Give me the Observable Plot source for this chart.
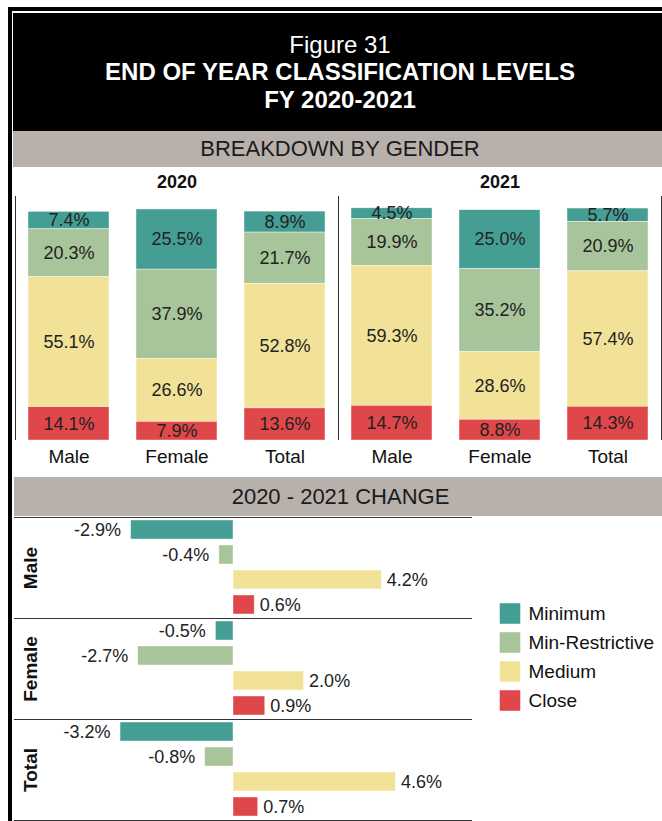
<!DOCTYPE html>
<html>
<head>
<meta charset="utf-8">
<script src="https://cdn.jsdelivr.net/npm/d3@7"></script>
<script src="https://cdn.jsdelivr.net/npm/@observablehq/plot@0.6"></script>
<style>
html, body { margin: 0; padding: 0; width: 662px; height: 821px; overflow: hidden; background: #fff;
  font-family: "Liberation Sans", Arial, sans-serif; }
.abs { position: absolute; }
#frameL { left: 8px; top: 7px; width: 4px; height: 814px; background: #000; }
#frameT { left: 8px; top: 7px; width: 660px; height: 4px; background: #000; }
#header { left: 13px; top: 13px; width: 654px; height: 118px; background: #000; color: #fff; }
.tl { position: absolute; left: 0; width: 100%; text-align: center; height: 28px; line-height: 28px; font-size: 24px; }
.band { background: #b8b0ab; color: #1a1a1a; text-align: center; font-size: 22px; }
#band1 { left: 13px; top: 131px; width: 654px; height: 36px; line-height: 36px; }
#band2 { left: 14px; top: 477px; width: 653px; height: 39px; line-height: 39px; }
#top { left: 0; top: 167px; }
#change { left: 14px; top: 516px; }
#legend { left: 499px; top: 597px; }
svg { overflow: visible; }
</style>
</head>
<body>
<div id="frameL" class="abs"></div>
<div id="frameT" class="abs"></div>
<div id="header" class="abs">
  <div class="tl" style="top:18px;">Figure 31</div>
  <div class="tl" style="top:45px;font-weight:bold;">END OF YEAR CLASSIFICATION LEVELS</div>
  <div class="tl" style="top:73px;font-weight:bold;">FY 2020-2021</div>
</div>
<div id="band1" class="abs band">BREAKDOWN BY GENDER</div>
<div id="top" class="abs"></div>
<div id="band2" class="abs band">2020 - 2021 CHANGE</div>
<div id="change" class="abs"></div>
<div id="legend" class="abs"></div>
<script>
const levels = ["Minimum", "Min-Restrictive", "Medium", "Close"];
const stackOrder = ["Close", "Medium", "Min-Restrictive", "Minimum"];
const levelColors = ["#459e94", "#a7c49a", "#f1e298", "#e0474b"];
const genders = ["Male", "Female", "Total"];
const years = ["2020", "2021"];

// Share (%) by gender: Male, Female, Total
const minimum2020 = [7.4, 25.5, 8.9];
const minRestrictive2020 = [20.3, 37.9, 21.7];
const medium2020 = [55.1, 26.6, 52.8];
const close2020 = [14.1, 7.9, 13.6];

const minimum2021 = [4.5, 25.0, 5.7];
const minRestrictive2021 = [19.9, 35.2, 20.9];
const medium2021 = [59.3, 28.6, 57.4];
const close2021 = [14.7, 8.8, 14.3];

// 2020 - 2021 change (percentage points): Male, Female, Total
const changeMinimum = [-2.9, -0.5, -3.2];
const changeMinRestrictive = [-0.4, -2.7, -0.8];
const changeMedium = [4.2, 2.0, 4.6];
const changeClose = [0.6, 0.9, 0.7];

const sets = {
  "2020": [minimum2020, minRestrictive2020, medium2020, close2020],
  "2021": [minimum2021, minRestrictive2021, medium2021, close2021]
};
const barRows = [];
years.forEach(yr => levels.forEach((lv, li) => genders.forEach((g, gi) =>
  barRows.push({year: yr, gender: g, level: lv, value: sets[yr][li][gi]}))));
const axisRows = [];
years.forEach(yr => genders.forEach(g => axisRows.push({year: yr, gender: g})));

const changeSets = [changeMinimum, changeMinRestrictive, changeMedium, changeClose];
const changeRows = [];
genders.forEach((g, gi) => levels.forEach((lv, li) =>
  changeRows.push({gender: g, level: lv, value: changeSets[li][gi]})));

const pct = d => d.value.toFixed(1) + "%";
const font = "'Liberation Sans', Arial, sans-serif";
const color = {domain: levels, range: levelColors};
const dotted = {stroke: "#333", strokeDasharray: "1,1", strokeWidth: 1};

const topChart = Plot.plot({
  width: 662, height: 310,
  marginTop: 29, marginBottom: 37, marginLeft: 15, marginRight: 1,
  style: {fontFamily: font, background: "transparent"},
  fx: {domain: years, padding: 0, axis: null},
  x: {domain: genders, paddingInner: 0.25, paddingOuter: 0.12, axis: null},
  y: {domain: [0, 103.4], axis: null},
  color,
  marks: [
    Plot.frame({anchor: "left", ...dotted}),
    Plot.frame({anchor: "right", ...dotted}),
    Plot.barY(barRows, Plot.stackY({fx: "year", x: "gender", y: "value", z: "level", order: stackOrder,
      fill: "level", stroke: "#fff", strokeWidth: 0.6, strokeOpacity: 0.7})),
    Plot.text(barRows, Plot.stackY({fx: "year", x: "gender", y: "value", z: "level", order: stackOrder,
      text: pct, fontSize: 18, fill: "#222"})),
    Plot.text(years, {fx: d => d, text: d => d, frameAnchor: "top", lineAnchor: "middle", dy: -14,
      fontWeight: "bold", fontSize: 18, fill: "#111"}),
    Plot.text(axisRows, {fx: "year", x: "gender", text: "gender", frameAnchor: "bottom", lineAnchor: "middle",
      dy: 16, fontSize: 19, fill: "#111"})
  ]
});
document.getElementById("top").appendChild(topChart);

const changeChart = Plot.plot({
  width: 457, height: 306,
  marginTop: 1, marginBottom: 2, marginLeft: 0, marginRight: 0,
  style: {fontFamily: font, background: "transparent"},
  fy: {domain: genders, padding: 0, axis: null},
  y: {domain: levels, paddingInner: 0.23, paddingOuter: 0.12, axis: null},
  x: {domain: [-6.204, 6.742], axis: null},
  color,
  marks: [
    Plot.frame({anchor: "top", ...dotted}),
    Plot.frame({anchor: "bottom", ...dotted}),
    Plot.barX(changeRows, {fy: "gender", y: "level", x: "value", fill: "level",
      stroke: "#fff", strokeWidth: 0.6, strokeOpacity: 0.7}),
    Plot.text(changeRows.filter(d => d.value < 0), {fy: "gender", y: "level", x: "value", text: pct,
      textAnchor: "end", dx: -10, fontSize: 18, fill: "#222"}),
    Plot.text(changeRows.filter(d => d.value >= 0), {fy: "gender", y: "level", x: "value", text: pct,
      textAnchor: "start", dx: 5, fontSize: 18, fill: "#222"}),
    Plot.text(genders, {fy: d => d, text: d => d, frameAnchor: "left", textAnchor: "middle",
      lineAnchor: "middle", rotate: -90, dx: 16, fontWeight: "bold", fontSize: 19, fill: "#111"})
  ]
});
document.getElementById("change").appendChild(changeChart);

const legendChart = Plot.plot({
  width: 163, height: 119, margin: 0,
  style: {fontFamily: font, background: "transparent"},
  y: {domain: levels, padding: 0.5, axis: null},
  color,
  marks: [
    Plot.dot(levels, {y: d => d, frameAnchor: "left", dx: 10.5, symbol: "square", r: 11.6, fill: d => d}),
    Plot.text(levels, {y: d => d, text: d => d, frameAnchor: "left", dx: 29, textAnchor: "start",
      lineAnchor: "middle", fontSize: 19, fill: "#111"})
  ]
});
document.getElementById("legend").appendChild(legendChart);
</script>
</body>
</html>
